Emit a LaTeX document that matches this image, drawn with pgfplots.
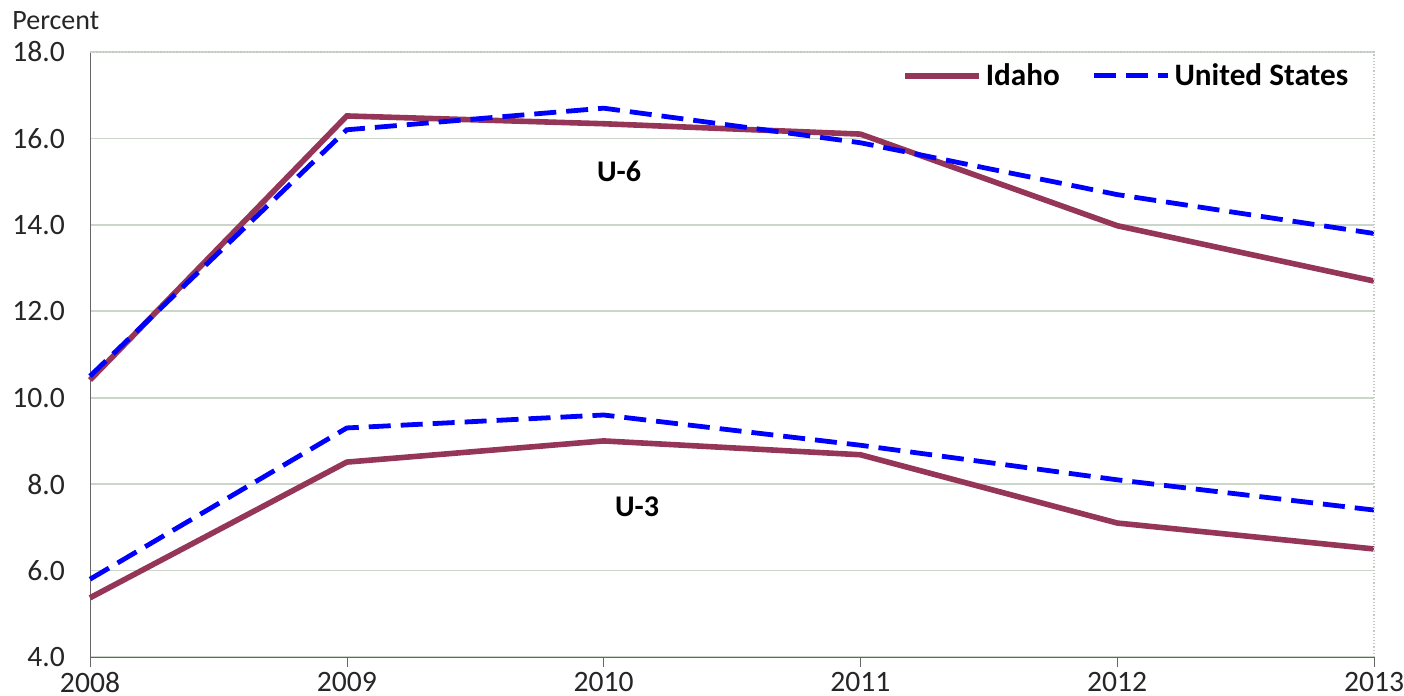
\documentclass[border=0pt]{standalone}
\usepackage{pgfplots}
\pgfplotsset{compat=1.18}
\usepackage{fontspec}
\setmainfont{Carlito}
\definecolor{idaho}{HTML}{953557}
\definecolor{usblue}{HTML}{0000FF}
\definecolor{gridc}{HTML}{C9D6C9}
\begin{document}
\begin{tikzpicture}
\begin{axis}[
  scale only axis,
  width=642pt, height=302.5pt,
  xmin=2008, xmax=2013, ymin=4, ymax=18,
  xtick={2008,2009,2010,2011,2012,2013},
  ytick={4,6,8,10,12,14,16,18},
  xticklabel style={/pgf/number format/1000 sep={}, yshift=1pt},
  yticklabel style={/pgf/number format/fixed, /pgf/number format/precision=1, /pgf/number format/fixed zerofill, xshift=-4pt},
  /pgf/number format/assume math mode=true,
  ticklabel style={font=\fontsize{14.8}{17}\selectfont, text=black!85},
  axis lines=left,
  axis line style={-, draw=gray!80!black},
  tick align=outside,
  major tick length=5pt,
  ytick style={draw=none},
  xtick style={draw=gray!80!black},
  ymajorgrids, grid style={gridc, line width=0.8pt},
  legend style={draw=none, fill=none, at={(rel axis cs:0.988,0.995)}, anchor=north east,
    legend columns=2, font=\fontsize{15.6}{18}\bfseries\selectfont,
    /tikz/every even column/.append style={column sep=14pt}},
  legend image code/.code={\draw[#1] (0pt,0pt) -- (37pt,0pt);},
  legend cell align=left,
  clip=false,
]
\addplot[idaho, line width=2.8pt] coordinates {(2008,10.41) (2009,16.52) (2010,16.34) (2011,16.10) (2012,13.98) (2013,12.70)};
\addlegendentry{Idaho}
\addplot[usblue, line width=2.4pt, dash pattern=on 11pt off 5pt] coordinates {(2008,10.5) (2009,16.2) (2010,16.7) (2011,15.9) (2012,14.7) (2013,13.8)};
\addlegendentry{United States}
\addplot[idaho, line width=2.8pt, forget plot] coordinates {(2008,5.37) (2009,8.51) (2010,9.00) (2011,8.68) (2012,7.10) (2013,6.50)};
\addplot[usblue, line width=2.4pt, dash pattern=on 11pt off 5pt, forget plot] coordinates {(2008,5.8) (2009,9.3) (2010,9.6) (2011,8.9) (2012,8.1) (2013,7.4)};
\node[font=\fontsize{15}{18}\bfseries\selectfont] at (axis cs:2010.06,15.23) {U-6};
\node[font=\fontsize{15}{18}\bfseries\selectfont] at (axis cs:2010.13,7.47) {U-3};
\draw[gray!45, densely dotted, line width=0.6pt] (rel axis cs:0,1) -- (rel axis cs:1,1) -- (rel axis cs:1,0);
\node[anchor=base west, font=\fontsize{14}{16}\selectfont, text=black!85, inner sep=0pt] at ([shift={(-39pt,11pt)}]rel axis cs:0,1) {Percent};
\coordinate (ll) at (rel axis cs:0,0);
\coordinate (ur) at (rel axis cs:1,1);
\end{axis}
\pgfresetboundingbox
\path ([shift={(-45pt,-19.5pt)}]ll) rectangle ([shift={(15pt,26pt)}]ur);
\end{tikzpicture}
\end{document}
